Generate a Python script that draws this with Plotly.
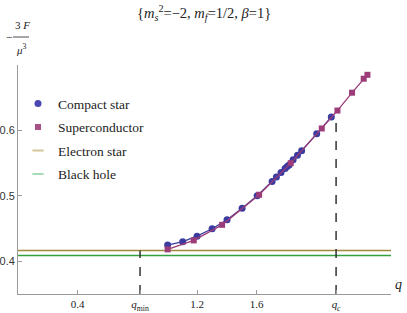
import plotly.graph_objects as go

# ---- data ----
compact_q = [1.003, 1.104, 1.200, 1.301, 1.401, 1.502, 1.603, 1.703, 1.732, 1.763, 1.790,
             1.804, 1.817, 1.844, 1.873, 1.901, 2.002, 2.100]
compact_F = [0.4248, 0.4300, 0.4384, 0.4497, 0.4633, 0.4810, 0.5002, 0.5220, 0.5290, 0.5356,
             0.5417, 0.5447, 0.5473, 0.5553, 0.5620, 0.5690, 0.5948, 0.6207]
super_q = [1.003, 1.178, 1.368, 1.616, 1.828, 2.036, 2.141, 2.239, 2.317, 2.342]
super_F = [0.4182, 0.4319, 0.4557, 0.5017, 0.5500, 0.6030, 0.6304, 0.6577, 0.6790, 0.6850]
q_span = [0.0, 2.5]
electron_star_F = 0.4163
black_hole_F = 0.4090
q_min = 0.818
q_c = 2.132
q_c_F = 0.625
y_bottom = 0.35
x_tickvals = [0.4, q_min, 1.2, 1.6, q_c]
x_ticktext = ["0.4", "<i>q</i><sub>min</sub>", "1.2", "1.6", "<i>q</i><sub><i>c</i></sub>"]
y_tickvals = [0.4, 0.5, 0.6]
y_ticktext = ["0.4", "0.5", "0.6"]

BLUE = "#3b3ba0"
MAG = "#9c3c78"
TAN = "#a08a3c"
GREEN = "#35a040"
SERIF = "Liberation Serif, Times New Roman, serif"
TXT = "#222222"

fig = go.Figure()

# horizontal reference lines
fig.add_trace(go.Scatter(x=q_span, y=[electron_star_F] * 2, mode="lines",
                         line=dict(color=TAN, width=1.5), showlegend=False, hoverinfo="skip"))
fig.add_trace(go.Scatter(x=q_span, y=[black_hole_F] * 2, mode="lines",
                         line=dict(color=GREEN, width=1.5), showlegend=False, hoverinfo="skip"))
# dashed verticals
fig.add_trace(go.Scatter(x=[q_min, q_min], y=[y_bottom, electron_star_F], mode="lines",
                         line=dict(color="#333333", width=1.5, dash="dash"), showlegend=False))
fig.add_trace(go.Scatter(x=[q_c, q_c], y=[y_bottom, q_c_F], mode="lines",
                         line=dict(color="#333333", width=1.5, dash="dash"), showlegend=False))

# data series
fig.add_trace(go.Scatter(x=compact_q, y=compact_F, mode="lines+markers", showlegend=False,
                         line=dict(color=BLUE, width=1.3),
                         marker=dict(symbol="circle", size=7, color=BLUE)))
fig.add_trace(go.Scatter(x=super_q, y=super_F, mode="lines+markers", showlegend=False,
                         line=dict(color=MAG, width=1.3),
                         marker=dict(symbol="square", size=6, color=MAG)))
# legend entries
fig.add_trace(go.Scatter(x=[None], y=[None], mode="markers", name="Compact star", legendgroup="a",
                         marker=dict(symbol="circle", size=7, color="#4848b0")))
fig.add_trace(go.Scatter(x=[None], y=[None], mode="markers", name="Superconductor", legendgroup="b",
                         marker=dict(symbol="square", size=6, color="#a85088")))
fig.add_trace(go.Scatter(x=[None], y=[None], mode="markers", name="Electron star", legendgroup="c",
                         marker=dict(symbol="line-ew", size=8, line=dict(color="#d4c69a", width=2))))
fig.add_trace(go.Scatter(x=[None], y=[None], mode="markers", name="Black hole", legendgroup="d",
                         marker=dict(symbol="line-ew", size=8, line=dict(color="#a8dcb8", width=2))))

axis_common = dict(showgrid=False, zeroline=False, showline=True, linecolor="#9a9a9a", linewidth=1,
                   ticks="inside", ticklen=4, tickcolor="#9a9a9a", mirror=False, automargin=False)

fig.update_xaxes(range=[0, 2.5], tickvals=x_tickvals,
                 ticktext=[f"<span style='color:{TXT}'>{t}</span>" for t in x_ticktext],
                 tickfont=dict(family=SERIF, size=11, color=TXT), **axis_common)
fig.update_yaxes(range=[0.35, 0.7], tickvals=y_tickvals, ticktext=y_ticktext,
                 tickfont=dict(family="Liberation Sans, Arial, sans-serif", size=11, color="#333333"),
                 **axis_common)

fig.update_layout(
    width=407, height=313,
    margin=dict(l=18, r=16, t=65, b=19, autoexpand=False),
    paper_bgcolor="white", plot_bgcolor="white",
    legend=dict(x=0.0, y=0.899, xanchor="left", yanchor="top", bgcolor="rgba(0,0,0,0)",
                font=dict(family=SERIF, size=13.5, color=TXT), tracegroupgap=3,
                traceorder="grouped"),
    showlegend=True,
)

W, H = 407, 313
L, R, T, B = 18, 16, 65, 19
pw, ph = W - L - R, H - T - B

def px_to_paper(px, py):
    return (px - L) / pw, (H - B - py) / ph

title_text = "{<i>m<sub>s</sub></i><sup>2</sup>=−2, <i>m<sub>f</sub></i>=1/2, <i>β</i>=1}"
anns = []
for text, px, py, size in [(title_text, 204, 13, 14.5), ("−", 9, 37, 12), ("3 <i>F</i>", 22, 25, 11),
                           ("<i>μ</i><sup>3</sup>", 21, 49, 11), ("<i>q</i>", 398, 284, 14)]:
    xp, yp = px_to_paper(px, py)
    anns.append(dict(text=text, x=xp, y=yp, xref="paper", yref="paper", showarrow=False,
                     xanchor="center", yanchor="middle",
                     font=dict(family=SERIF, size=size, color=TXT)))
fig.layout.annotations = anns

x0, y0 = px_to_paper(13, 37)
x1, _ = px_to_paper(29, 37)
fig.add_shape(type="line", xref="paper", yref="paper", x0=x0, x1=x1, y0=y0, y1=y0,
              line=dict(color=TXT, width=0.8))

fig.write_html("out.html", config={"displayModeBar": False},
               post_script="document.body.style.margin='0';document.body.style.padding='0';"
                           "document.documentElement.style.overflow='hidden';")
